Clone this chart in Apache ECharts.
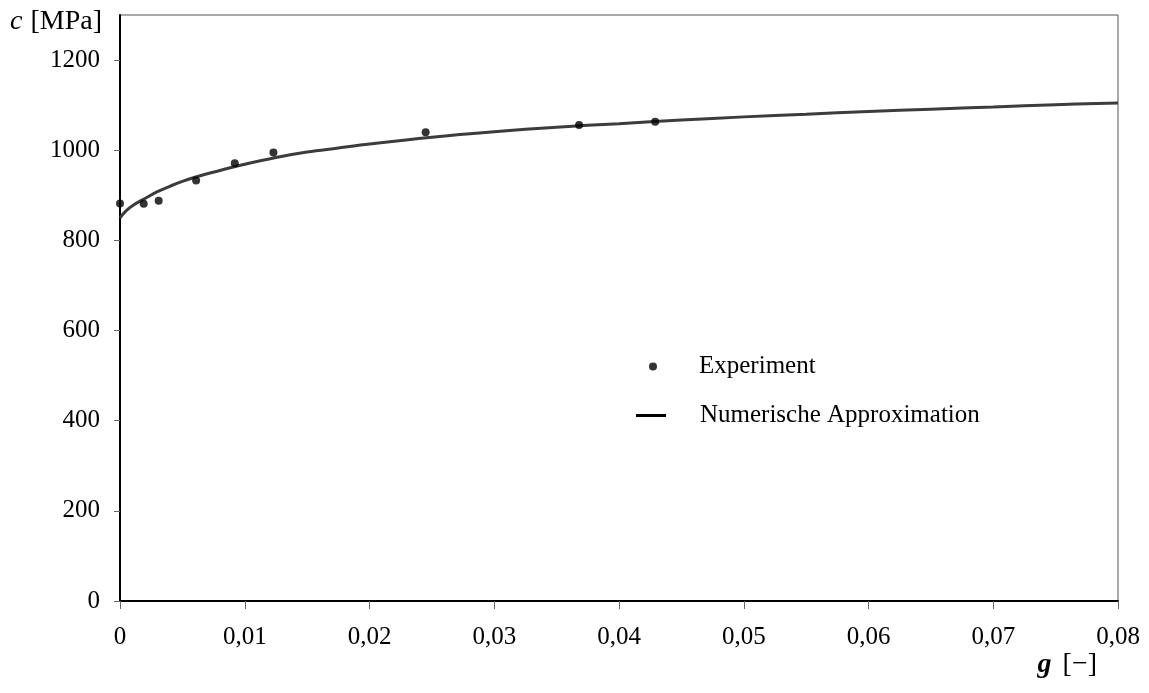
<!DOCTYPE html>
<html>
<head>
<meta charset="utf-8">
<script src="https://cdn.jsdelivr.net/npm/echarts@6/dist/echarts.min.js"></script>
<style>
  html, body { margin: 0; padding: 0; background: #fff; }
  #chart { width: 1149px; height: 693px; }
</style>
</head>
<body>
<div id="chart"></div>
<script>
// experiment points [g, c]
var expG = [0, 0.0019, 0.0031, 0.0061, 0.0092, 0.0123, 0.0245, 0.0368, 0.0429];
var expC = [882, 881, 888, 933, 971, 995, 1040, 1056, 1063];

// numeric approximation
var fitG = [0, 0.0005, 0.001, 0.002, 0.003, 0.004, 0.005, 0.006, 0.008, 0.010, 0.0125, 0.015, 0.0175,
            0.020, 0.025, 0.030, 0.035, 0.040, 0.045, 0.050, 0.055, 0.060, 0.065, 0.070, 0.075, 0.080];
var fitC = [850, 866, 877, 893, 908, 920, 931, 940, 955, 969, 984, 996, 1005,
            1014, 1029, 1041, 1051, 1059, 1067, 1074, 1080, 1086, 1091, 1096, 1101, 1105];

var xTicks = [0, 0.01, 0.02, 0.03, 0.04, 0.05, 0.06, 0.07, 0.08];
var xTickLabels = ['0', '0,01', '0,02', '0,03', '0,04', '0,05', '0,06', '0,07', '0,08'];
var yTicks = [0, 200, 400, 600, 800, 1000, 1200];
var yTickLabels = ['0', '200', '400', '600', '800', '1000', '1200'];

var FONT = '"Liberation Serif", "Times New Roman", serif';

function pairs(xs, ys) {
    return xs.map(function (x, i) { return [x, ys[i]]; });
}

var chart = echarts.init(document.getElementById('chart'));
chart.setOption({
    animation: false,
    textStyle: { fontFamily: FONT, color: '#000' },
    grid: {
        left: 120,
        right: 31,
        top: 15,
        bottom: 92,
        outerBoundsMode: 'none',
        containLabel: false,
        show: true,
        borderColor: '#555',
        borderWidth: 1
    },
    xAxis: {
        type: 'value',
        min: 0,
        max: 0.08,
        interval: 0.01,
        name: '{b|g}{n|[−]}',
        nameLocation: 'end',
        nameGap: -21,
        nameTextStyle: {
            align: 'right',
            verticalAlign: 'top',
            padding: [50, 0, 0, 0],
            rich: {
                b: { fontFamily: FONT, fontSize: 28, fontWeight: 'bold', fontStyle: 'italic', color: '#000', padding: [0, 11, 0, 0] },
                n: { fontFamily: FONT, fontSize: 28, color: '#000' }
            }
        },
        axisLine: { lineStyle: { color: '#000', width: 2 } },
        axisTick: { show: true, length: 8, lineStyle: { color: '#666' }, customValues: xTicks },
        axisLabel: {
            customValues: xTicks,
            margin: 24,
            fontSize: 25,
            fontFamily: FONT,
            color: '#000',
            formatter: function (v) {
                var i = xTicks.findIndex(function (t) { return Math.abs(t - v) < 1e-9; });
                return i >= 0 ? xTickLabels[i] : '';
            }
        },
        splitLine: { show: false }
    },
    yAxis: {
        type: 'value',
        min: 0,
        max: 1300,
        interval: 200,
        name: '{i|c}{n|[MPa]}',
        nameLocation: 'end',
        nameGap: -7,
        nameTextStyle: {
            align: 'right',
            verticalAlign: 'middle',
            padding: [0, 18, 0, 0],
            rich: {
                i: { fontFamily: FONT, fontSize: 28, fontStyle: 'italic', color: '#000', padding: [0, 8, 0, 0] },
                n: { fontFamily: FONT, fontSize: 28, color: '#000' }
            }
        },
        axisLine: { show: true, lineStyle: { color: '#000', width: 2 } },
        axisTick: { show: true, length: 6, lineStyle: { color: '#666' }, customValues: yTicks },
        axisLabel: {
            customValues: yTicks,
            margin: 20,
            fontSize: 25,
            fontFamily: FONT,
            color: '#000',
            formatter: function (v) {
                var i = yTicks.indexOf(v);
                return i >= 0 ? yTickLabels[i] : '';
            }
        },
        splitLine: { show: false }
    },
    legend: [
        {
            data: ['Experiment'],
            left: 644,
            top: 349,
            itemWidth: 8,
            itemHeight: 8,
            textStyle: { fontSize: 25, fontFamily: FONT, color: '#000', padding: [0, 0, 0, 37] }
        },
        {
            data: [{ name: 'Numerische Approximation', icon: 'rect' }],
            left: 631,
            top: 398,
            itemWidth: 30,
            itemHeight: 3,
            itemStyle: { color: '#000' },
            textStyle: { fontSize: 25, fontFamily: FONT, color: '#000', padding: [0, 0, 0, 29] }
        }
    ],
    series: [
        {
            name: 'Numerische Approximation',
            type: 'line',
            smooth: 0.4,
            showSymbol: false,
            symbol: 'none',
            data: pairs(fitG, fitC),
            itemStyle: { color: '#000' },
            lineStyle: { color: '#3c3c3c', width: 3 },
            z: 2
        },
        {
            name: 'Experiment',
            type: 'scatter',
            symbol: 'circle',
            symbolSize: 8,
            data: pairs(expG, expC),
            itemStyle: { color: '#000' },
            z: 3
        }
    ]
});
</script>
</body>
</html>
